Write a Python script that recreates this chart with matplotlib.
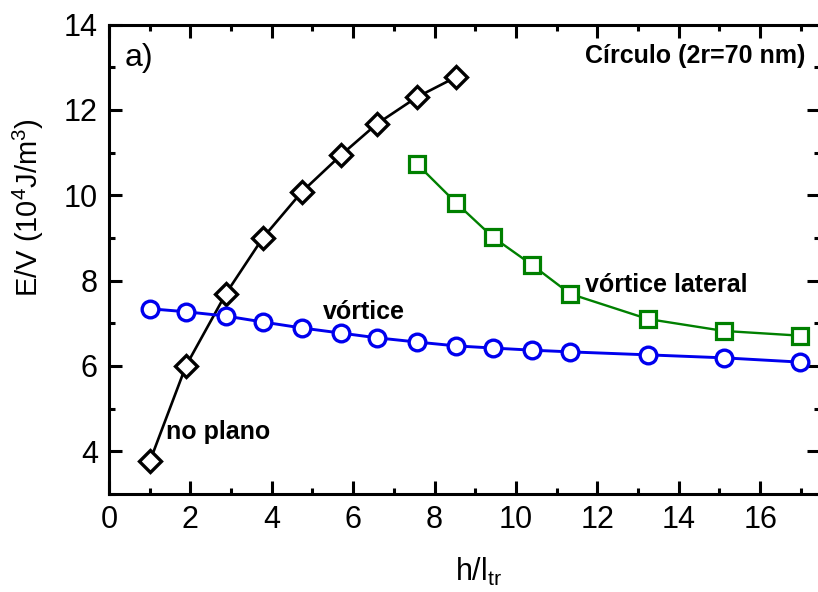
import numpy as np
import matplotlib
matplotlib.use('Agg')
import matplotlib.pyplot as plt
from matplotlib.ticker import MultipleLocator

plt.rcParams['font.family'] = ['Liberation Sans', 'DejaVu Sans']
plt.rcParams['mathtext.fontset'] = 'custom'
plt.rcParams['mathtext.rm'] = 'Liberation Sans'
plt.rcParams['mathtext.it'] = 'Liberation Sans:italic'

# energia por volume (10^4 J/m^3) vs h/l_tr, circulo 2r = 70 nm
h_plano = [1.01, 1.89, 2.87, 3.78, 4.74, 5.70, 6.58, 7.57, 8.53]
e_plano = [3.78, 6.00, 7.69, 9.00, 10.08, 10.94, 11.67, 12.30, 12.77]

h_vortice = [1.01, 1.89, 2.87, 3.78, 4.74, 5.70, 6.58, 7.57, 8.53,
             9.43, 10.39, 11.33, 13.24, 15.11, 16.98]
e_vortice = [7.34, 7.27, 7.17, 7.03, 6.89, 6.77, 6.66, 6.56, 6.47,
             6.42, 6.37, 6.33, 6.26, 6.19, 6.09]

h_lateral = [7.57, 8.53, 9.43, 10.39, 11.33, 13.24, 15.11, 16.98]
e_lateral = [10.73, 9.82, 9.02, 8.37, 7.69, 7.10, 6.82, 6.71]

fig = plt.figure(figsize=(8.18, 5.92), dpi=100)
ax = fig.add_axes([109/818, 98/592, 711/818, 469.5/592])

ax.plot(h_plano, e_plano, color='black', lw=1.9, marker='D', ms=11,
        mfc='white', mec='black', mew=2.4, zorder=3)
ax.plot(h_vortice, e_vortice, color='#0000ee', lw=2.1, marker='o', ms=12,
        mfc='white', mec='#0000ee', mew=2.4, zorder=3)
ax.plot(h_lateral, e_lateral, color='#008000', lw=1.7, marker='s', ms=11,
        mfc='white', mec='#008000', mew=2.3, zorder=3)

ax.set_xlim(0, 17.47)
ax.set_ylim(3, 14)
ax.xaxis.set_major_locator(MultipleLocator(2))
ax.xaxis.set_minor_locator(MultipleLocator(1))
ax.yaxis.set_major_locator(MultipleLocator(2))
ax.yaxis.set_minor_locator(MultipleLocator(1))
ax.tick_params(which='both', direction='in', top=True, right=True, width=2.2)
ax.tick_params(which='major', length=9.5, labelsize=22, pad=8)
ax.tick_params(which='minor', length=4.5)
for s in ax.spines.values():
    s.set_linewidth(2.2)

fig.text(28/818, 1 - 208/592, r'E/V (10$^4$J/m$^3$)', rotation=90,
         ha='center', va='center', fontsize=21)
fig.text(479/818, 1 - 572/592, r'h/l$_{\rm tr}$', ha='center', va='center',
         fontsize=22)

ax.text(0.39, 13.03, 'a)', fontsize=23, va='baseline')
ax.text(17.12, 13.10, 'Círculo (2r=70 nm)', fontsize=18, fontweight='bold',
        ha='right', va='baseline')
ax.text(11.70, 7.74, 'vórtice lateral', fontsize=18, fontweight='bold',
        va='baseline')
ax.text(5.26, 7.10, 'vórtice', fontsize=18, fontweight='bold', va='baseline')
ax.text(1.40, 4.29, 'no plano', fontsize=18, fontweight='bold', va='baseline')

fig.savefig('out.png', dpi=100)
